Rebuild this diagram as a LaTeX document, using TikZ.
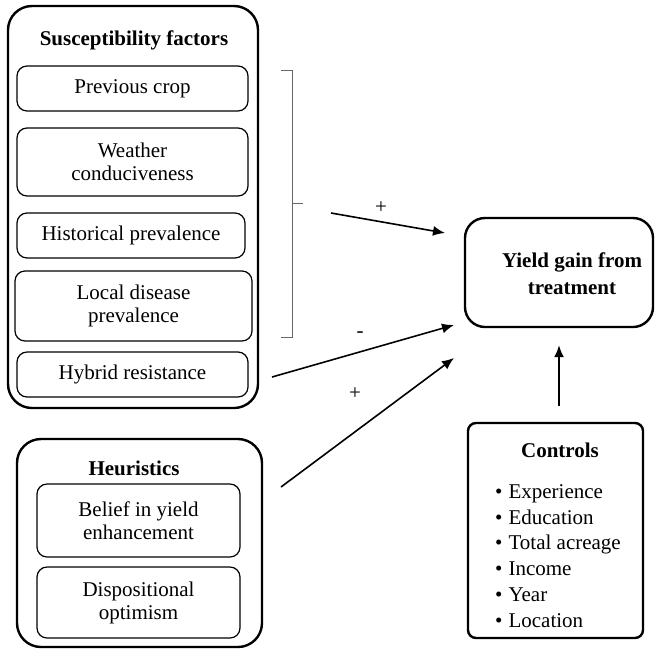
\documentclass[tikz,border=0pt]{standalone}
\usepackage{fontspec}
\setmainfont{Liberation Serif}
\usepackage{tikz}
\usetikzlibrary{arrows.meta}

\begin{document}
\begin{tikzpicture}[x=0.5pt,y=-0.5pt,
  outer/.style={draw, line width=1.2pt, rounded corners=12pt},
  inner/.style={draw, line width=0.6pt, rounded corners=5pt, align=center, inner sep=0pt},
  title/.style={font=\fontsize{10.5}{13}\selectfont\bfseries, align=center},
  arr/.style={-{Latex[length=6pt,width=5pt]}, line width=0.8pt},
  brk/.style={draw=black!60, line width=0.5pt}]
\tikzstyle{every node}+=[font=\fontsize{10.5}{11.5}\selectfont]
\useasboundingbox (0,0) rectangle (656,648);
\node [outer, minimum width=125pt, minimum height=201pt] (susc) at (133,207) {};
\node [title] (susctitle) at (134,40) {Susceptibility factors};
\node [inner, minimum width=115.5pt, minimum height=22.5pt] (prev) at (132.5,88.5) {Previous crop};
\node [inner, minimum width=115.5pt, minimum height=34pt] (weather) at (132.5,162) {Weather\\conduciveness};
\node [inner, minimum width=114pt, minimum height=22.5pt] (hist) at (131,235.5) {Historical prevalence};
\node [inner, minimum width=118.5pt, minimum height=35pt] (local) at (133.5,306) {Local disease\\prevalence};
\node [inner, minimum width=115.5pt, minimum height=22.5pt] (hybrid) at (132.5,374.5) {Hybrid resistance};
\node [outer, minimum width=122.5pt, minimum height=104pt] (heur) at (139.5,543) {};
\node [title] (heurtitle) at (134,468) {Heuristics};
\node [inner, minimum width=101.5pt, minimum height=36.5pt] (belief) at (138.5,520.5) {Belief in yield\\enhancement};
\node [inner, minimum width=101.5pt, minimum height=35.5pt] (disp) at (138.5,602.5) {Dispositional\\optimism};
\node [outer, rounded corners=10pt, minimum width=94pt, minimum height=54.5pt] (yield) at (559,272.5) {};
\node [title, font=\fontsize{10.5}{13.5}\selectfont\bfseries] (yieldtext) at (572,274) {Yield gain from\\treatment};
\node [outer, rounded corners=4pt, minimum width=87.5pt, minimum height=107.5pt] (ctrl) at (555.5,530.5) {};
\node [title] (ctrltitle) at (560,450) {Controls};
\node [align=left, font=\fontsize{10.5}{12.9}\selectfont] (ctrllist) at (558,556)
  {\textbullet\hspace{3pt}Experience\\ \textbullet\hspace{3pt}Education\\ \textbullet\hspace{3pt}Total acreage\\ \textbullet\hspace{3pt}Income\\ \textbullet\hspace{3pt}Year\\ \textbullet\hspace{3pt}Location};
\draw [brk] (281,70) -- (292,70) -- (292,337) -- (281,337);
\draw [brk] (292,203) -- (303,203);
\coordinate (brkout) at (331,213);
\coordinate (brkin) at (445,233);
\coordinate (hybout) at (272,377);
\coordinate (hybin) at (454,325);
\coordinate (heurout) at (281,487);
\coordinate (heurin) at (454,358);
\draw [arr] (brkout) -- (brkin);
\draw [arr] (hybout) -- (hybin);
\draw [arr] (heurout) -- (heurin);
\draw [arr, shorten <=8pt, shorten >=8.5pt] (ctrl.north -| yield) -- (yield.south);
\node (plusa) at (381,208) {+};
\node (minus) at (360,335) {-};
\node (plusb) at (355,394) {+};
\end{tikzpicture}
\end{document}
